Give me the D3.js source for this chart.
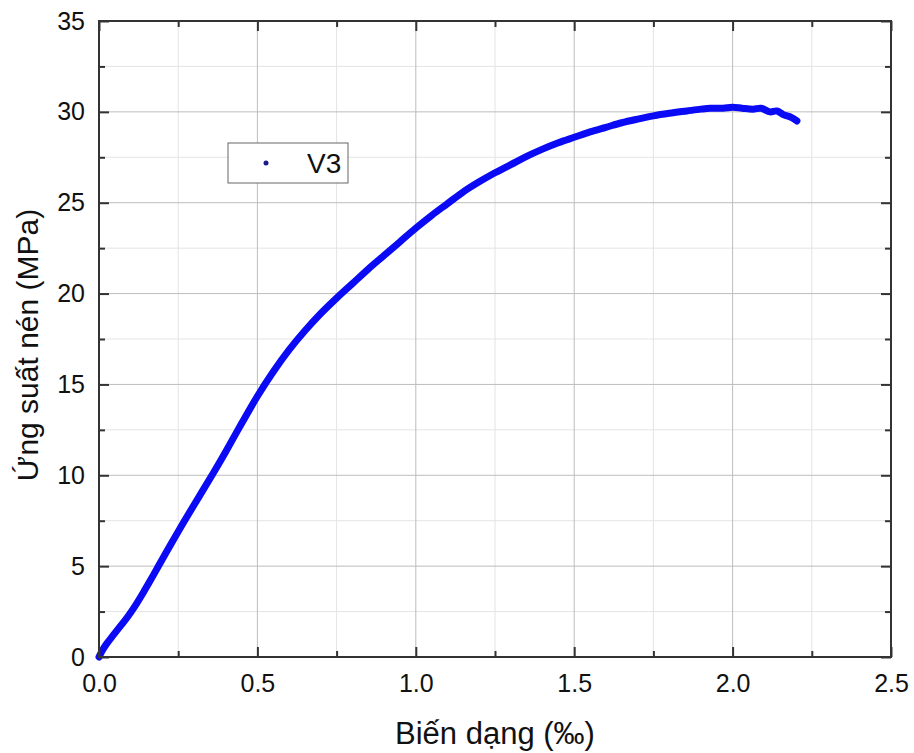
<!DOCTYPE html>
<html>
<head>
<meta charset="utf-8">
<script src="https://cdn.jsdelivr.net/npm/d3@7"></script>
<style>
  html, body { margin: 0; padding: 0; background: #fff; }
  svg { display: block; font-family: "Liberation Sans", Arial, sans-serif; }
</style>
</head>
<body>
<svg id="chart" width="914" height="753"></svg>
<script>
// Compressive stress–strain record of specimen V3
const strain = [0.000, 0.010, 0.025, 0.045, 0.070, 0.090, 0.110, 0.140, 0.165, 0.186,
                0.230, 0.270, 0.315, 0.360, 0.400, 0.450, 0.500, 0.550, 0.600, 0.650,
                0.700, 0.750, 0.800, 0.850, 0.900, 0.950, 1.000, 1.050, 1.100, 1.150,
                1.200, 1.250, 1.300, 1.350, 1.400, 1.450, 1.500, 1.550, 1.600, 1.650,
                1.700, 1.750, 1.800, 1.856, 1.900, 1.930, 1.970, 2.000, 2.030, 2.064,
                2.090, 2.118, 2.140, 2.160, 2.185, 2.203];
const stress = [0.0, 0.35, 0.75, 1.2, 1.75, 2.2, 2.7, 3.55, 4.3, 4.95,
                6.3, 7.5, 8.8, 10.1, 11.3, 12.85, 14.35, 15.7, 16.9, 17.95,
                18.9, 19.75, 20.55, 21.35, 22.1, 22.85, 23.6, 24.3, 24.95, 25.6,
                26.15, 26.65, 27.1, 27.55, 27.95, 28.3, 28.6, 28.9, 29.15, 29.4,
                29.6, 29.78, 29.92, 30.05, 30.15, 30.2, 30.2, 30.25, 30.2, 30.15,
                30.2, 30.0, 30.05, 29.85, 29.7, 29.5];

const seriesName = "V3";
const xMajor = [0, 0.5, 1.0, 1.5, 2.0, 2.5];
const xMinor = [0.25, 0.75, 1.25, 1.75, 2.25];
const yMajor = [0, 5, 10, 15, 20, 25, 30, 35];
const yMinor = [2.5, 7.5, 12.5, 17.5, 22.5, 27.5, 32.5];
const xTitle = "Biến dạng (‰)";
const yTitle = "Ứng suất nén (MPa)";

const svg = d3.select("#chart");
const L = 99, R = 891, T = 21, B = 657;

const x = d3.scaleLinear().domain([0, 2.5]).range([L, R]);
const y = d3.scaleLinear().domain([0, 35]).range([B, T]);

// grid: minor lines lighter than major
const grid = svg.append("g");
grid.selectAll(".gxm").data(xMinor).enter().append("line")
  .attr("x1", d => x(d)).attr("x2", d => x(d)).attr("y1", T).attr("y2", B)
  .attr("stroke", "#e4e4e4").attr("stroke-width", 1);
grid.selectAll(".gym").data(yMinor).enter().append("line")
  .attr("x1", L).attr("x2", R).attr("y1", d => y(d)).attr("y2", d => y(d))
  .attr("stroke", "#e4e4e4").attr("stroke-width", 1);
grid.selectAll(".gx").data(xMajor).enter().append("line")
  .attr("x1", d => x(d)).attr("x2", d => x(d)).attr("y1", T).attr("y2", B)
  .attr("stroke", "#bdbdbd").attr("stroke-width", 1);
grid.selectAll(".gy").data(yMajor).enter().append("line")
  .attr("x1", L).attr("x2", R).attr("y1", d => y(d)).attr("y2", d => y(d))
  .attr("stroke", "#bdbdbd").attr("stroke-width", 1);

// data curve
const pts = strain.map((s, i) => [s, stress[i]]);
svg.append("path")
  .datum(pts)
  .attr("fill", "none")
  .attr("stroke", "#0a0af5")
  .attr("stroke-width", 7)
  .attr("stroke-linejoin", "round")
  .attr("stroke-linecap", "round")
  .attr("d", d3.line().x(d => x(d[0])).y(d => y(d[1])).curve(d3.curveCatmullRom.alpha(0.5)));

// axes with inward ticks on all four sides
function styleAxis(g) {
  g.select(".domain").remove();
  g.selectAll(".tick line").attr("stroke", "#333").attr("stroke-width", 2);
  g.selectAll(".tick text").attr("fill", "#111").attr("font-size", 25)
    .attr("font-family", "Liberation Sans, Arial, sans-serif");
}
const fmt = d3.format(".1f");

svg.append("g").attr("transform", `translate(0,${B})`)
  .call(d3.axisBottom(x).tickValues(xMajor).tickFormat(fmt).tickSize(-10).tickPadding(17))
  .call(styleAxis);
svg.append("g").attr("transform", `translate(0,${B})`)
  .call(d3.axisBottom(x).tickValues(xMinor).tickFormat("").tickSize(-6))
  .call(styleAxis);
svg.append("g").attr("transform", `translate(0,${T})`)
  .call(d3.axisTop(x).tickValues(xMajor).tickFormat("").tickSize(-10))
  .call(styleAxis);
svg.append("g").attr("transform", `translate(0,${T})`)
  .call(d3.axisTop(x).tickValues(xMinor).tickFormat("").tickSize(-6))
  .call(styleAxis);

svg.append("g").attr("transform", `translate(${L},0)`)
  .call(d3.axisLeft(y).tickValues(yMajor).tickFormat(d3.format("d")).tickSize(-10).tickPadding(14))
  .call(styleAxis);
svg.append("g").attr("transform", `translate(${L},0)`)
  .call(d3.axisLeft(y).tickValues(yMinor).tickFormat("").tickSize(-6))
  .call(styleAxis);
svg.append("g").attr("transform", `translate(${R},0)`)
  .call(d3.axisRight(y).tickValues(yMajor).tickFormat("").tickSize(-10))
  .call(styleAxis);
svg.append("g").attr("transform", `translate(${R},0)`)
  .call(d3.axisRight(y).tickValues(yMinor).tickFormat("").tickSize(-6))
  .call(styleAxis);

// frame
svg.append("rect")
  .attr("x", L).attr("y", T).attr("width", R - L).attr("height", B - T)
  .attr("fill", "none").attr("stroke", "#333").attr("stroke-width", 2);

// axis titles
svg.append("text")
  .attr("x", (L + R) / 2).attr("y", 744)
  .attr("text-anchor", "middle").attr("font-size", 31).attr("fill", "#111")
  .text(xTitle);
svg.append("text")
  .attr("transform", `translate(38,${(T + B) / 2 + 6}) rotate(-90)`)
  .attr("text-anchor", "middle").attr("font-size", 30).attr("fill", "#111")
  .text(yTitle);

// legend
const lg = svg.append("g").attr("transform", "translate(228,143)");
lg.append("rect").attr("width", 120).attr("height", 40)
  .attr("fill", "#fff").attr("stroke", "#666").attr("stroke-width", 1);
lg.append("circle").attr("cx", 38).attr("cy", 20).attr("r", 2.5).attr("fill", "#1a1a8c");
lg.append("text").attr("x", 79).attr("y", 30).attr("font-size", 28).attr("fill", "#111")
  .text(seriesName);
</script>
</body>
</html>
